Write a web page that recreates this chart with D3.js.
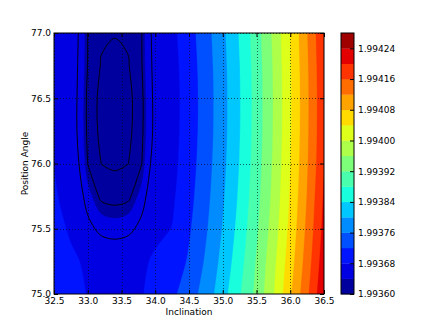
<!DOCTYPE html>
<html>
<head>
<meta charset="utf-8">
<script src="https://cdn.jsdelivr.net/npm/d3@7"></script>
<style>
  body { margin: 0; background: #fff; }
  svg text { font-family: "DejaVu Sans", sans-serif; font-size: 9px; fill: #000; }
</style>
</head>
<body>
<script>
var incl = [32.5, 32.75, 33.0, 33.2, 33.4, 33.6, 33.8, 34.0, 34.25, 34.5, 34.75, 35.0, 35.25, 35.5, 35.75, 36.0, 36.25, 36.5];
var posAngle = [75.0, 75.25, 75.5, 75.75, 76.0, 76.25, 76.5, 76.75, 77.0];

// one row per position angle, bottom (75.0) first
var zRows = [
  [1.9937120, 1.9936930, 1.9936785, 1.9936725, 1.9936700, 1.9936725, 1.9936785, 1.9936890, 1.9937120, 1.9937400, 1.9937770, 1.9938240, 1.9938760, 1.9939300, 1.9939960, 1.9940730, 1.9941510, 1.9942340],
  [1.9937050, 1.9936876, 1.9936730, 1.9936610, 1.9936584, 1.9936610, 1.9936730, 1.9936860, 1.9936950, 1.9937250, 1.9937650, 1.9938120, 1.9938640, 1.9939230, 1.9939880, 1.9940610, 1.9941390, 1.9942220],
  [1.9936960, 1.9936740, 1.9936520, 1.9936445, 1.9936431, 1.9936445, 1.9936520, 1.9936700, 1.9936810, 1.9937150, 1.9937550, 1.9938020, 1.9938540, 1.9939130, 1.9939780, 1.9940510, 1.9941290, 1.9942120],
  [1.9936850, 1.9936638, 1.9936425, 1.9936345, 1.9936334, 1.9936345, 1.9936425, 1.9936597, 1.9936735, 1.9937075, 1.9937475, 1.9937945, 1.9938465, 1.9939055, 1.9939705, 1.9940435, 1.9941215, 1.9942045],
  [1.9936798, 1.9936590, 1.9936360, 1.9936266, 1.9936248, 1.9936266, 1.9936360, 1.9936545, 1.9936680, 1.9937022, 1.9937422, 1.9937892, 1.9938412, 1.9939002, 1.9939652, 1.9940382, 1.9941162, 1.9941962],
  [1.9936760, 1.9936555, 1.9936346, 1.9936238, 1.9936212, 1.9936238, 1.9936346, 1.9936512, 1.9936650, 1.9936991, 1.9937391, 1.9937861, 1.9938381, 1.9938971, 1.9939621, 1.9940351, 1.9941131, 1.9941931],
  [1.9936760, 1.9936557, 1.9936344, 1.9936234, 1.9936208, 1.9936234, 1.9936344, 1.9936514, 1.9936645, 1.9936984, 1.9937384, 1.9937854, 1.9938374, 1.9938964, 1.9939614, 1.9940344, 1.9941124, 1.9941924],
  [1.9936780, 1.9936561, 1.9936358, 1.9936260, 1.9936241, 1.9936260, 1.9936358, 1.9936521, 1.9936660, 1.9937000, 1.9937400, 1.9937870, 1.9938390, 1.9938980, 1.9939630, 1.9940360, 1.9941140, 1.9941940],
  [1.9936790, 1.9936574, 1.9936360, 1.9936282, 1.9936272, 1.9936282, 1.9936360, 1.9936531, 1.9936700, 1.9937040, 1.9937440, 1.9937910, 1.9938430, 1.9939020, 1.9939670, 1.9940400, 1.9941180, 1.9941980]
];

var levels = [1.99360, 1.99364, 1.99368, 1.99372, 1.99376, 1.99380, 1.99384, 1.99388, 1.99392,
              1.99396, 1.99400, 1.99404, 1.99408, 1.99412, 1.99416, 1.99420, 1.99424, 1.99428];
var lineLevels = [1.9936267, 1.9936361, 1.9936480];

var xTicks = [32.5, 33.0, 33.5, 34.0, 34.5, 35.0, 35.5, 36.0, 36.5];
var yTicks = [75.0, 75.5, 76.0, 76.5, 77.0];
var cbTicks = [1.99360, 1.99368, 1.99376, 1.99384, 1.99392, 1.99400, 1.99408, 1.99416, 1.99424];

// jet, one colour per band
var jet = ["#00009f", "#0000e3", "#0014ff", "#0050ff", "#008cff", "#00c8ff", "#19ffde", "#49ffad", "#7dff7a",
           "#adff49", "#deff19", "#ffdb00", "#ffa300", "#ff6c00", "#ff3400", "#e30000", "#9f0000"];

var W = 436, H = 327;
var plot = {left: 54, right: 324, top: 33, bottom: 294};
var cbar = {left: 341, right: 354};

var svg = d3.select("body").append("svg")
    .attr("width", W)
    .attr("height", H);

var x = d3.scaleLinear().domain([32.5, 36.5]).range([plot.left, plot.right]);
var y = d3.scaleLinear().domain([75, 77]).range([plot.bottom, plot.top]);

// grid index -> data value
var gi = d3.scaleLinear().domain(d3.range(incl.length)).range(incl).clamp(true);
var gj = d3.scaleLinear().domain(d3.range(posAngle.length)).range(posAngle).clamp(true);

var values = [];
zRows.forEach(function(r) { r.forEach(function(v) { values.push(v); }); });

function toPx(p) { return [x(gi(p[0] - 0.5)), y(gj(p[1] - 0.5))]; }

function onEdge(p) {
  return p[0] <= plot.left + 0.01 || p[0] >= plot.right - 0.01 ||
         p[1] <= plot.top + 0.01 || p[1] >= plot.bottom - 0.01;
}

var openCurve = d3.line().curve(d3.curveCatmullRom.alpha(0.5));
var closedCurve = d3.line().curve(d3.curveCatmullRomClosed.alpha(0.5));

// smooth the inner part of a contour ring, keep the parts on the frame straight
function ringPath(ring, ctx, skipEdge) {
  var pts = ring.map(toPx);
  if (pts.length > 1) pts.pop();
  var k = pts.findIndex(onEdge);
  if (k < 0) { closedCurve.context(ctx)(pts); return; }
  pts = pts.slice(k).concat(pts.slice(0, k));
  pts.push(pts[0]);
  var cont = {
    moveTo: function(a, b) { ctx.lineTo(a, b); },
    lineTo: function(a, b) { ctx.lineTo(a, b); },
    bezierCurveTo: function(a, b, c, d, e, f) { ctx.bezierCurveTo(a, b, c, d, e, f); },
    closePath: function() {}
  };
  ctx.moveTo(pts[0][0], pts[0][1]);
  var run = [pts[0]];
  for (var i = 1; i < pts.length; i++) {
    run.push(pts[i]);
    if (onEdge(pts[i])) {
      if (run.length === 2) {
        if (skipEdge) ctx.moveTo(pts[i][0], pts[i][1]);
        else ctx.lineTo(pts[i][0], pts[i][1]);
      } else {
        openCurve.context(cont)(run);
      }
      run = [pts[i]];
    }
  }
  if (!skipEdge) ctx.closePath();
}

function contourPath(c, skipEdge) {
  var ctx = d3.path();
  c.coordinates.forEach(function(poly) {
    poly.forEach(function(ring) { ringPath(ring, ctx, skipEdge); });
  });
  return ctx.toString();
}

svg.append("clipPath").attr("id", "clip")
  .append("rect")
    .attr("x", plot.left).attr("y", plot.top)
    .attr("width", plot.right - plot.left).attr("height", plot.bottom - plot.top);

var contours = d3.contours()
    .size([incl.length, posAngle.length])
    .thresholds(levels.slice(0, -1));

var g = svg.append("g").attr("clip-path", "url(#clip)");

g.selectAll("path.band")
    .data(contours(values))
  .enter().append("path")
    .attr("class", "band")
    .attr("d", function(d) { return contourPath(d, false); })
    .attr("fill", function(d, i) { return jet[i]; })
    .attr("fill-rule", "evenodd")
    .attr("stroke", function(d, i) { return jet[i]; })
    .attr("stroke-width", 0.3);

// dotted grid
g.selectAll("line.gx")
    .data(xTicks)
  .enter().append("line")
    .attr("x1", function(d) { return Math.round(x(d)) + 0.5; })
    .attr("x2", function(d) { return Math.round(x(d)) + 0.5; })
    .attr("y1", plot.top).attr("y2", plot.bottom)
    .attr("stroke", "#000").attr("stroke-width", 0.6)
    .attr("stroke-dasharray", "1,2");
g.selectAll("line.gy")
    .data(yTicks)
  .enter().append("line")
    .attr("y1", function(d) { return Math.round(y(d)) + 0.5; })
    .attr("y2", function(d) { return Math.round(y(d)) + 0.5; })
    .attr("x1", plot.left).attr("x2", plot.right)
    .attr("stroke", "#000").attr("stroke-width", 0.6)
    .attr("stroke-dasharray", "1,2");

// black contour lines
var lines = d3.contours()
    .size([incl.length, posAngle.length])
    .thresholds(lineLevels);
g.selectAll("path.cl")
    .data(lines(values))
  .enter().append("path")
    .attr("class", "cl")
    .attr("d", function(d) { return contourPath(d, true); })
    .attr("fill", "none")
    .attr("stroke", "#000")
    .attr("stroke-width", 0.9);

// axes with inward ticks
var fmt1 = d3.format(".1f");
svg.append("g")
    .attr("transform", "translate(0," + plot.bottom + ")")
    .call(d3.axisBottom(x).tickValues(xTicks).tickFormat(fmt1).tickSizeInner(-4).tickSizeOuter(0).tickPadding(4));
svg.append("g")
    .attr("transform", "translate(0," + plot.top + ")")
    .call(d3.axisTop(x).tickValues(xTicks).tickFormat("").tickSizeInner(-4).tickSizeOuter(0));
svg.append("g")
    .attr("transform", "translate(" + plot.left + ",0)")
    .call(d3.axisLeft(y).tickValues(yTicks).tickFormat(fmt1).tickSizeInner(-4).tickSizeOuter(0).tickPadding(3));
svg.append("g")
    .attr("transform", "translate(" + plot.right + ",0)")
    .call(d3.axisRight(y).tickValues(yTicks).tickFormat("").tickSizeInner(-4).tickSizeOuter(0));
svg.selectAll(".domain").remove();

svg.append("rect")
    .attr("x", plot.left).attr("y", plot.top)
    .attr("width", plot.right - plot.left).attr("height", plot.bottom - plot.top)
    .attr("fill", "none").attr("stroke", "#000").attr("stroke-width", 1);

svg.append("text")
    .attr("x", (plot.left + plot.right) / 2).attr("y", 315)
    .attr("text-anchor", "middle")
    .text("Inclination");
svg.append("text")
    .attr("transform", "translate(27.5," + (plot.top + plot.bottom) / 2 + ")rotate(-90)")
    .attr("text-anchor", "middle")
    .text("Position Angle");

// colorbar
var cb = d3.scaleLinear().domain([levels[0], levels[levels.length - 1]]).range([plot.bottom, plot.top]);
svg.selectAll("rect.cb")
    .data(levels.slice(0, -1))
  .enter().append("rect")
    .attr("class", "cb")
    .attr("x", cbar.left)
    .attr("width", cbar.right - cbar.left)
    .attr("y", function(d, i) { return cb(levels[i + 1]); })
    .attr("height", function(d, i) { return cb(d) - cb(levels[i + 1]) + 0.3; })
    .attr("fill", function(d, i) { return jet[i]; });
svg.append("g")
    .attr("transform", "translate(" + cbar.right + ",0)")
    .call(d3.axisRight(cb).tickValues(cbTicks).tickFormat(d3.format(".5f")).tickSizeInner(-4).tickSizeOuter(0).tickPadding(4))
    .select(".domain").remove();
svg.selectAll(".tick text").style("font-family", "DejaVu Sans").style("font-size", "9px").attr("fill", "#000");
svg.append("rect")
    .attr("x", cbar.left).attr("y", plot.top)
    .attr("width", cbar.right - cbar.left).attr("height", plot.bottom - plot.top)
    .attr("fill", "none").attr("stroke", "#000").attr("stroke-width", 1);
</script>
</body>
</html>
